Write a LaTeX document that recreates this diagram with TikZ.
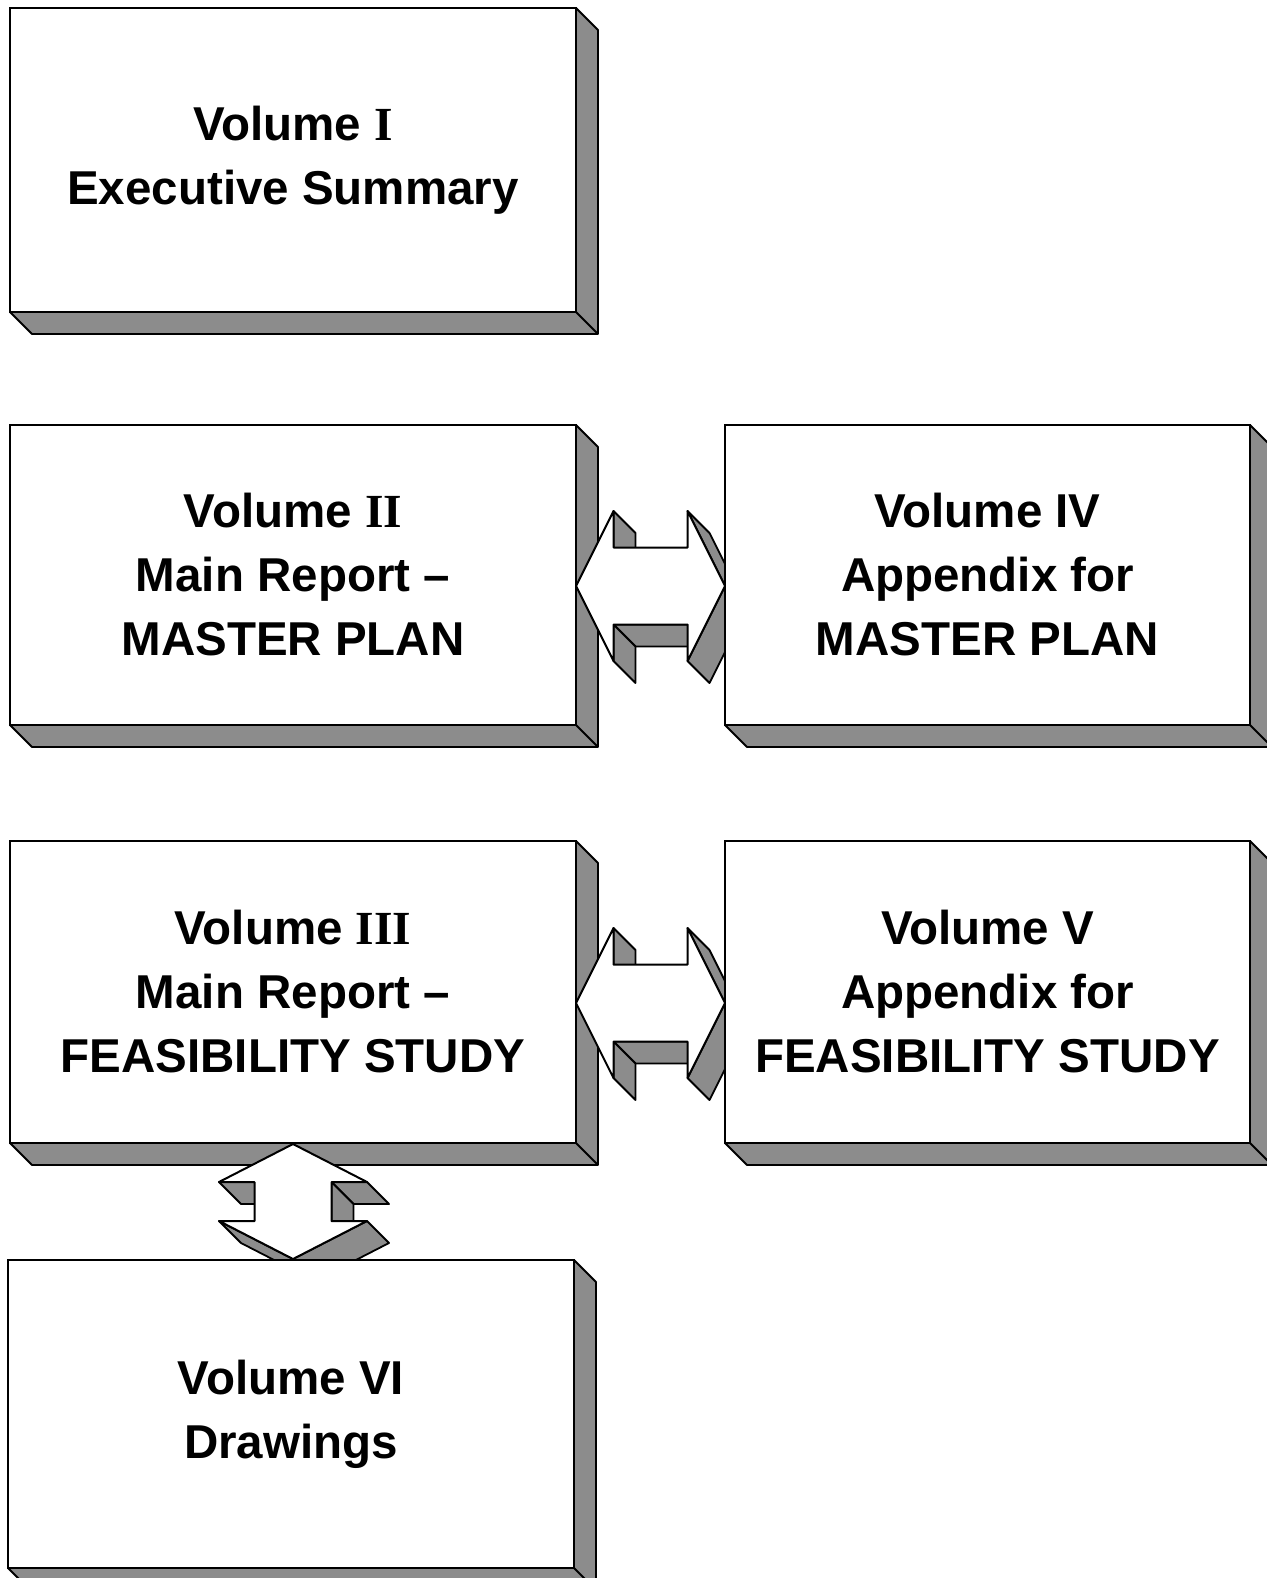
\documentclass[tikz,border=0pt]{standalone}
\usepackage{fontspec}
\setmainfont{Liberation Sans}
\newfontfamily\romnum{Liberation Serif}
\usetikzlibrary{calc}
\pgfdeclarelayer{back}
\pgfdeclarelayer{fore}
\pgfsetlayers{back,main,fore}
\colorlet{facegrey}{black!45}
\tikzset{
  volbox/.style={draw, line width=2.2pt, fill=white, inner sep=0pt, outer sep=0pt, align=center, font=\bfseries\fontsize{47.5}{64}\selectfont},
  widebox/.style={volbox, minimum width=566pt, minimum height=302pt},
  sidebox/.style={volbox, minimum width=525pt, minimum height=300pt},
  sideface/.style={draw, line width=1.8pt, fill=facegrey, line join=round},
  arrowface/.style={draw, line width=2pt, fill=white, line join=round}
}
% depth of a volume box, down and right of its front face
\newcommand{\boxdepth}[1]{%
  \filldraw[sideface] (#1.north east) -- ++(22,22) -- ($(#1.south east)+(22,22)$) -- ($(#1.south west)+(22,22)$)
    -- (#1.south west) -- (#1.south east) -- cycle;
  \draw[line width=1.8pt] (#1.south east) -- ++(22,22);}
% block double arrows, drawn round a centre coordinate
\newcommand{\harrow}[1]{%
  \begin{scope}[shift={(#1)}]
    \filldraw[sideface] (-37,-75) -- (-37,-38.5) -- (-15,-16.5) -- (-15,-53) -- cycle;
    \filldraw[sideface] (37,38.5) -- (-37,38.5) -- (-15,60.5) -- (59,60.5) -- cycle;
    \filldraw[sideface] (-37,38.5) -- (-37,75) -- (-15,97) -- (-15,60.5) -- cycle;
    \filldraw[sideface] (37,-75) -- (74.5,0) -- (96.5,22) -- (59,-53) -- cycle;
    \filldraw[sideface] (74.5,0) -- (37,75) -- (59,97) -- (96.5,22) -- cycle;
    \filldraw[arrowface] (-74.5,0) -- (-37,-75) -- (-37,-38.5) -- (37,-38.5) -- (37,-75) -- (74.5,0)
      -- (37,75) -- (37,38.5) -- (-37,38.5) -- (-37,75) -- cycle;
  \end{scope}}
\newcommand{\varrow}[1]{%
  \begin{scope}[shift={(#1)}]
    \filldraw[sideface] (-38.5,-19.5) -- (-74,-19.5) -- (-52,2.5) -- (-16.5,2.5) -- cycle;
    \filldraw[sideface] (74,-19.5) -- (38.5,-19.5) -- (60.5,2.5) -- (96,2.5) -- cycle;
    \filldraw[sideface] (38.5,-19.5) -- (38.5,19.5) -- (60.5,41.5) -- (60.5,2.5) -- cycle;
    \filldraw[sideface] (74,19.5) -- (0,57.5) -- (22,79.5) -- (96,41.5) -- cycle;
    \filldraw[sideface] (0,57.5) -- (-74,19.5) -- (-52,41.5) -- (22,79.5) -- cycle;
    \filldraw[arrowface] (0,-57.5) -- (74,-19.5) -- (38.5,-19.5) -- (38.5,19.5) -- (74,19.5) -- (0,57.5)
      -- (-74,19.5) -- (-38.5,19.5) -- (-38.5,-19.5) -- (-74,-19.5) -- cycle;
  \end{scope}}

\begin{document}
\begin{tikzpicture}[x=1pt, y=-1pt]
  \useasboundingbox (0,0) rectangle (1266,1578);

  \begin{pgfonlayer}{back}
    \fill[white] (0,0) rectangle (1266,1578);
    \node[widebox, minimum height=304pt] (v1) at (293,160) {Volume {\romnum I}\\Executive Summary};
    \boxdepth{v1}
    \node[widebox, minimum height=300pt] (v2) at (293,575) {Volume {\romnum II}\\Main Report –\\MASTER PLAN};
    \boxdepth{v2}
    \node[widebox] (v3) at (293,992) {Volume {\romnum III}\\Main Report –\\FEASIBILITY STUDY};
    \boxdepth{v3}
  \end{pgfonlayer}

  \begin{pgfonlayer}{fore}
    \node[sidebox] (v4) at (987.5,575) {Volume IV\\Appendix for\\MASTER PLAN};
    \boxdepth{v4}
    \node[sidebox, minimum height=302pt] (v5) at (987.5,992) {Volume V\\Appendix for\\FEASIBILITY STUDY};
    \boxdepth{v5}
    \node[widebox, minimum height=308pt] (v6) at (291,1414) {Volume VI\\Drawings};
    \boxdepth{v6}
  \end{pgfonlayer}

  \coordinate (a24) at ($(v2.east)!0.5!(v4.west)+(0,11)$);
  \coordinate (a35) at ($(v3.east)!0.5!(v5.west)+(0,11)$);
  \coordinate (a36) at ($(v3.south)!0.5!(v6.north)+(1,0)$);
  \harrow{a24}
  \harrow{a35}
  \varrow{a36}
\end{tikzpicture}
\end{document}
